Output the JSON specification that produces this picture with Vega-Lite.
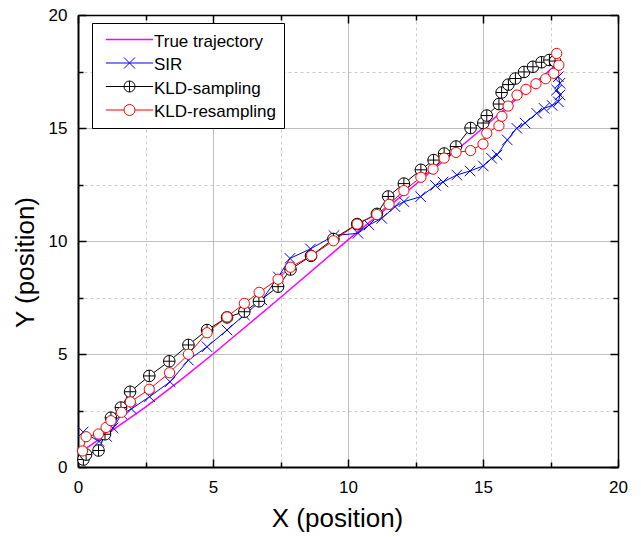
{
  "$schema": "https://vega.github.io/schema/vega-lite/v6.json",
  "width": 540,
  "height": 452,
  "autosize": {"type": "none"},
  "padding": {"left": 78, "top": 15, "right": 23, "bottom": 70},
  "background": "white",
  "config": {"view": {"stroke": null}, "font": "Liberation Sans"},
  "data": {"values": [
    {"s":"True trajectory","i":0,"x":0.2,"y":0.75},
    {"s":"True trajectory","i":1,"x":1.0,"y":1.4},
    {"s":"True trajectory","i":2,"x":2.5,"y":2.65},
    {"s":"True trajectory","i":3,"x":3.75,"y":3.8},
    {"s":"True trajectory","i":4,"x":5.0,"y":5.0},
    {"s":"True trajectory","i":5,"x":6.25,"y":6.25},
    {"s":"True trajectory","i":6,"x":7.5,"y":7.5},
    {"s":"True trajectory","i":7,"x":10.0,"y":10.05},
    {"s":"True trajectory","i":8,"x":12.5,"y":12.5},
    {"s":"True trajectory","i":9,"x":15.0,"y":15.0},
    {"s":"True trajectory","i":10,"x":17.8,"y":17.9},

    {"s":"SIR","i":1,"x":0.19,"y":1.55},
    {"s":"SIR","i":2,"x":0.78,"y":1.13},
    {"s":"SIR","i":3,"x":1.06,"y":1.35},
    {"s":"SIR","i":4,"x":1.30,"y":1.73},
    {"s":"SIR","i":5,"x":1.62,"y":2.35},
    {"s":"SIR","i":6,"x":1.98,"y":2.57},
    {"s":"SIR","i":7,"x":2.65,"y":3.11},
    {"s":"SIR","i":8,"x":3.41,"y":3.77},
    {"s":"SIR","i":9,"x":4.09,"y":4.73},
    {"s":"SIR","i":10,"x":4.78,"y":5.32},
    {"s":"SIR","i":11,"x":5.52,"y":6.06},
    {"s":"SIR","i":12,"x":6.16,"y":6.73},
    {"s":"SIR","i":13,"x":6.81,"y":7.39},
    {"s":"SIR","i":14,"x":7.42,"y":8.41},
    {"s":"SIR","i":15,"x":7.85,"y":9.23},
    {"s":"SIR","i":16,"x":8.61,"y":9.65},
    {"s":"SIR","i":17,"x":9.48,"y":10.24},
    {"s":"SIR","i":18,"x":10.37,"y":10.34},
    {"s":"SIR","i":19,"x":10.78,"y":10.71},
    {"s":"SIR","i":20,"x":11.25,"y":11.0},
    {"s":"SIR","i":21,"x":11.74,"y":11.52},
    {"s":"SIR","i":22,"x":12.07,"y":11.74},
    {"s":"SIR","i":23,"x":12.69,"y":11.96},
    {"s":"SIR","i":24,"x":13.24,"y":12.46},
    {"s":"SIR","i":25,"x":13.52,"y":12.61},
    {"s":"SIR","i":26,"x":14.03,"y":12.92},
    {"s":"SIR","i":27,"x":14.52,"y":13.10},
    {"s":"SIR","i":28,"x":15.01,"y":13.32},
    {"s":"SIR","i":29,"x":15.32,"y":13.66},
    {"s":"SIR","i":30,"x":15.52,"y":13.81},
    {"s":"SIR","i":31,"x":15.90,"y":14.47},
    {"s":"SIR","i":32,"x":16.25,"y":14.99},
    {"s":"SIR","i":33,"x":16.56,"y":15.22},
    {"s":"SIR","i":34,"x":16.99,"y":15.65},
    {"s":"SIR","i":35,"x":17.26,"y":15.87},
    {"s":"SIR","i":36,"x":17.56,"y":16.00},
    {"s":"SIR","i":37,"x":17.79,"y":16.16},
    {"s":"SIR","i":38,"x":17.85,"y":16.46},
    {"s":"SIR","i":39,"x":17.73,"y":16.68},
    {"s":"SIR","i":40,"x":17.85,"y":16.98},
    {"s":"SIR","i":41,"x":17.79,"y":17.27},

    {"s":"KLD-sampling","i":1,"x":0.2,"y":0.33},
    {"s":"KLD-sampling","i":2,"x":0.3,"y":0.55},
    {"s":"KLD-sampling","i":3,"x":0.76,"y":0.73},
    {"s":"KLD-sampling","i":4,"x":1.0,"y":1.45},
    {"s":"KLD-sampling","i":5,"x":1.22,"y":2.18},
    {"s":"KLD-sampling","i":6,"x":1.59,"y":2.63},
    {"s":"KLD-sampling","i":7,"x":1.93,"y":3.33},
    {"s":"KLD-sampling","i":8,"x":2.64,"y":4.03},
    {"s":"KLD-sampling","i":9,"x":3.38,"y":4.68},
    {"s":"KLD-sampling","i":10,"x":4.09,"y":5.40},
    {"s":"KLD-sampling","i":11,"x":4.78,"y":6.06},
    {"s":"KLD-sampling","i":12,"x":5.52,"y":6.62},
    {"s":"KLD-sampling","i":13,"x":6.16,"y":6.87},
    {"s":"KLD-sampling","i":14,"x":6.70,"y":7.33},
    {"s":"KLD-sampling","i":15,"x":7.41,"y":7.98},
    {"s":"KLD-sampling","i":16,"x":7.87,"y":8.74},
    {"s":"KLD-sampling","i":17,"x":8.63,"y":9.34},
    {"s":"KLD-sampling","i":18,"x":9.46,"y":10.09},
    {"s":"KLD-sampling","i":19,"x":10.34,"y":10.75},
    {"s":"KLD-sampling","i":20,"x":11.07,"y":11.2},
    {"s":"KLD-sampling","i":21,"x":11.49,"y":11.97},
    {"s":"KLD-sampling","i":22,"x":12.07,"y":12.54},
    {"s":"KLD-sampling","i":23,"x":12.70,"y":13.15},
    {"s":"KLD-sampling","i":24,"x":13.17,"y":13.58},
    {"s":"KLD-sampling","i":25,"x":13.56,"y":13.87},
    {"s":"KLD-sampling","i":26,"x":14.0,"y":14.18},
    {"s":"KLD-sampling","i":27,"x":14.54,"y":15.0},
    {"s":"KLD-sampling","i":28,"x":15.01,"y":15.22},
    {"s":"KLD-sampling","i":29,"x":15.14,"y":15.55},
    {"s":"KLD-sampling","i":30,"x":15.59,"y":16.06},
    {"s":"KLD-sampling","i":31,"x":15.69,"y":16.57},
    {"s":"KLD-sampling","i":32,"x":15.94,"y":16.92},
    {"s":"KLD-sampling","i":33,"x":16.2,"y":17.19},
    {"s":"KLD-sampling","i":34,"x":16.52,"y":17.48},
    {"s":"KLD-sampling","i":35,"x":16.85,"y":17.71},
    {"s":"KLD-sampling","i":36,"x":17.17,"y":17.91},
    {"s":"KLD-sampling","i":37,"x":17.46,"y":18.01},
    {"s":"KLD-sampling","i":38,"x":17.67,"y":17.96},

    {"s":"KLD-resampling","i":1,"x":0.17,"y":0.71},
    {"s":"KLD-resampling","i":2,"x":0.30,"y":1.34},
    {"s":"KLD-resampling","i":3,"x":0.76,"y":1.46},
    {"s":"KLD-resampling","i":4,"x":1.04,"y":1.75},
    {"s":"KLD-resampling","i":5,"x":1.22,"y":2.05},
    {"s":"KLD-resampling","i":6,"x":1.61,"y":2.42},
    {"s":"KLD-resampling","i":7,"x":1.94,"y":2.88},
    {"s":"KLD-resampling","i":8,"x":2.64,"y":3.44},
    {"s":"KLD-resampling","i":9,"x":3.39,"y":4.17},
    {"s":"KLD-resampling","i":10,"x":4.09,"y":4.99},
    {"s":"KLD-resampling","i":11,"x":4.78,"y":5.94},
    {"s":"KLD-resampling","i":12,"x":5.52,"y":6.64},
    {"s":"KLD-resampling","i":13,"x":6.16,"y":7.24},
    {"s":"KLD-resampling","i":14,"x":6.71,"y":7.73},
    {"s":"KLD-resampling","i":15,"x":7.41,"y":8.31},
    {"s":"KLD-resampling","i":16,"x":7.87,"y":8.84},
    {"s":"KLD-resampling","i":17,"x":8.65,"y":9.35},
    {"s":"KLD-resampling","i":18,"x":9.46,"y":10.01},
    {"s":"KLD-resampling","i":19,"x":10.34,"y":10.75},
    {"s":"KLD-resampling","i":20,"x":11.07,"y":11.17},
    {"s":"KLD-resampling","i":21,"x":11.52,"y":11.62},
    {"s":"KLD-resampling","i":22,"x":12.07,"y":12.23},
    {"s":"KLD-resampling","i":23,"x":12.70,"y":12.82},
    {"s":"KLD-resampling","i":24,"x":13.15,"y":13.18},
    {"s":"KLD-resampling","i":25,"x":13.56,"y":13.67},
    {"s":"KLD-resampling","i":26,"x":14.0,"y":13.92},
    {"s":"KLD-resampling","i":27,"x":14.54,"y":14.0},
    {"s":"KLD-resampling","i":28,"x":15.0,"y":14.29},
    {"s":"KLD-resampling","i":29,"x":15.14,"y":14.77},
    {"s":"KLD-resampling","i":30,"x":15.59,"y":15.1},
    {"s":"KLD-resampling","i":31,"x":15.7,"y":15.52},
    {"s":"KLD-resampling","i":32,"x":15.93,"y":15.97},
    {"s":"KLD-resampling","i":33,"x":16.26,"y":16.46},
    {"s":"KLD-resampling","i":34,"x":16.59,"y":16.71},
    {"s":"KLD-resampling","i":35,"x":16.96,"y":16.96},
    {"s":"KLD-resampling","i":36,"x":17.32,"y":17.18},
    {"s":"KLD-resampling","i":37,"x":17.62,"y":17.42},
    {"s":"KLD-resampling","i":38,"x":17.81,"y":17.78},
    {"s":"KLD-resampling","i":39,"x":17.73,"y":18.3}
  ]},
  "layer": [
    {
      "mark": {"type": "line", "clip": true},
      "encoding": {
        "x": {"field": "x", "type": "quantitative", "scale": {"domain": [0, 20], "nice": false, "zero": false},
          "axis": {"orient": "bottom", "values": [0, 2.5, 5, 7.5, 10, 12.5, 15, 17.5, 20],
            "labelExpr": "datum.value % 5 === 0 ? format(datum.value, 'd') : ''",
            "labelFontSize": 17, "labelColor": "black", "labelPadding": 20, "labelFlush": false, "labelOverlap": false,
            "title": "X (position)", "titleFontSize": 26, "titleFontWeight": "normal", "titleColor": "black", "titlePadding": 7, "titleX": 259,
            "grid": true,
            "gridColor": {"condition": {"test": "datum.value % 5 === 0", "value": "#a8a8a8"}, "value": "#cccccc"},
            "gridDash": {"condition": {"test": "datum.value % 5 === 0", "value": [1, 0]}, "value": [3, 3]},
            "gridWidth": 1,
            "ticks": true,
            "tickSize": {"condition": {"test": "datum.value % 5 === 0", "value": -8}, "value": -5},
            "tickColor": "black", "tickWidth": 1.5,
            "domain": true, "domainColor": "black", "domainWidth": 2}},
        "y": {"field": "y", "type": "quantitative", "scale": {"domain": [0, 20], "nice": false, "zero": false},
          "axis": {"orient": "left", "values": [0, 2.5, 5, 7.5, 10, 12.5, 15, 17.5, 20],
            "labelExpr": "datum.value % 5 === 0 ? format(datum.value, 'd') : ''",
            "labelFontSize": 17, "labelColor": "black", "labelPadding": 19, "labelFlush": false, "labelOverlap": false,
            "title": "Y (position)", "titleFontSize": 26, "titleFontWeight": "normal", "titleColor": "black", "titlePadding": 10, "titleY": 247,
            "grid": true,
            "gridColor": {"condition": {"test": "datum.value % 5 === 0", "value": "#a8a8a8"}, "value": "#cccccc"},
            "gridDash": {"condition": {"test": "datum.value % 5 === 0", "value": [1, 0]}, "value": [3, 3]},
            "gridWidth": 1,
            "ticks": true,
            "tickSize": {"condition": {"test": "datum.value % 5 === 0", "value": -8}, "value": -5},
            "tickColor": "black", "tickWidth": 1.5,
            "domain": true, "domainColor": "black", "domainWidth": 2}},
        "color": {"field": "s", "type": "nominal",
          "scale": {"domain": ["True trajectory", "SIR", "KLD-sampling", "KLD-resampling"], "range": ["#ff00ff", "#0000ff", "#000000", "#ff0000"]},
          "legend": {"title": null, "orient": "none", "legendX": 14, "legendY": 8, "direction": "vertical",
            "fillColor": "white", "strokeColor": "black", "padding": 8, "cornerRadius": 0,
            "labelFontSize": 17, "labelFont": "Liberation Sans", "labelColor": "black", "labelLimit": 300,
            "symbolSize": 121, "symbolOffset": 21, "labelOffset": 16, "rowPadding": 4.5, "symbolStrokeWidth": 1,
            "encode": {
              "labels": {"update": {"dy": {"value": 2}}},
              "symbols": {"update": {
              "shape": {"signal": "datum.value === 'SIR' ? 'M-4.3,0L4.3,0M-1,-1L1,1M-1,1L1,-1' : datum.value === 'KLD-sampling' ? 'M-4.3,0L-1,0M1,0L4.3,0M-1,0A1,1 0 1,1 1,0A1,1 0 1,1 -1,0M-1,0L1,0M0,-1L0,1' : datum.value === 'KLD-resampling' ? 'M-4.3,0L-1,0M1,0L4.3,0M-1,0A1,1 0 1,1 1,0A1,1 0 1,1 -1,0' : 'M-4.3,0L4.3,0'"},
              "fill": {"value": "transparent"},
              "size": {"value": 121},
              "strokeWidth": {"signal": "datum.value === 'True trajectory' ? 1.6 : 1"}
            }}}}},
        "strokeWidth": {"condition": {"test": "datum.s === 'True trajectory'", "value": 1.5}, "value": 1},
        "order": {"field": "i", "type": "quantitative"}
      }
    },
    {
      "transform": [{"filter": "datum.s === 'SIR'"}],
      "mark": {"type": "point", "shape": "M-1,-1L1,1M-1,1L1,-1", "filled": false, "stroke": "#0000ff", "strokeWidth": 1, "size": 110, "opacity": 1},
      "encoding": {
        "x": {"field": "x", "type": "quantitative",
          "axis": {"orient": "top", "values": [0, 2.5, 5, 7.5, 10, 12.5, 15, 17.5, 20], "labels": false, "title": null, "grid": false,
            "ticks": true, "tickSize": {"condition": {"test": "datum.value % 5 === 0", "value": -8}, "value": -5},
            "tickColor": "black", "tickWidth": 1.5, "domain": true, "domainColor": "black", "domainWidth": 1.5}},
        "y": {"field": "y", "type": "quantitative",
          "axis": {"orient": "right", "values": [0, 2.5, 5, 7.5, 10, 12.5, 15, 17.5, 20], "labels": false, "title": null, "grid": false,
            "ticks": true, "tickSize": {"condition": {"test": "datum.value % 5 === 0", "value": -8}, "value": -5},
            "tickColor": "black", "tickWidth": 1.5, "domain": true, "domainColor": "black", "domainWidth": 1.5}}
      }
    },
    {
      "transform": [{"filter": "datum.s === 'KLD-sampling'"}],
      "mark": {"type": "point", "shape": "M-1,0A1,1 0 1,1 1,0A1,1 0 1,1 -1,0M-1,0L1,0M0,-1L0,1", "filled": true, "fill": "white", "stroke": "black", "strokeWidth": 1, "size": 135, "opacity": 1},
      "encoding": {
        "x": {"field": "x", "type": "quantitative", "axis": null},
        "y": {"field": "y", "type": "quantitative", "axis": null}
      }
    },
    {
      "transform": [{"filter": "datum.s === 'KLD-resampling'"}],
      "mark": {"type": "point", "shape": "circle", "filled": true, "fill": "white", "stroke": "#ff0000", "strokeWidth": 1, "size": 105, "opacity": 1},
      "encoding": {
        "x": {"field": "x", "type": "quantitative", "axis": null},
        "y": {"field": "y", "type": "quantitative", "axis": null}
      }
    }
  ],
  "resolve": {"axis": {"x": "independent", "y": "independent"}}
}
